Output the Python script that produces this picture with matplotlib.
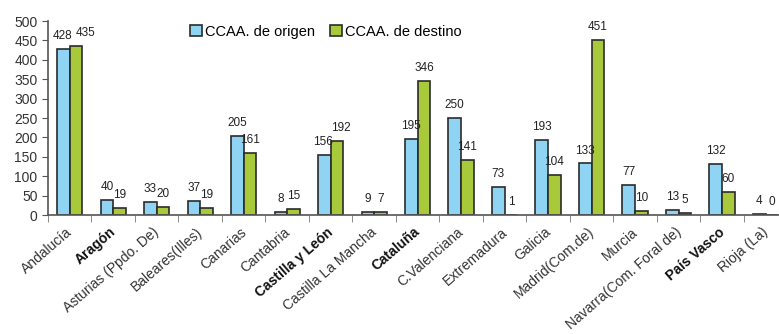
import numpy as np
import matplotlib.pyplot as plt
import matplotlib.transforms as mtransforms
from matplotlib.ticker import FixedLocator

regiones = ["Andalucía", "Aragón", "Asturias (Ppdo. De)", "Baleares(Illes)",
            "Canarias", "Cantabria", "Castilla y León", "Castilla La Mancha",
            "Cataluña", "C.Valenciana", "Extremadura", "Galicia",
            "Madrid(Com.de)", "Murcia", "Navarra(Com. Foral de)",
            "País Vasco", "Rioja (La)"]
origen = [428, 40, 33, 37, 205, 8, 156, 9, 195, 250, 73, 193, 133, 77, 13, 132, 4]
destino = [435, 19, 20, 19, 161, 15, 192, 7, 346, 141, 1, 104, 451, 10, 5, 60, 0]
negrita = ["Aragón", "Castilla y León", "Cataluña", "País Vasco"]

plt.rcParams["font.family"] = ["Liberation Sans", "DejaVu Sans"]

c_origen = "#8fd4f2"
c_destino = "#a8ca3a"
borde = "#2b2b2b"

fig = plt.figure(figsize=(7.79, 3.34), dpi=100)
ax = fig.add_axes([0.0616, 0.356, 0.949, 0.581])

x = np.arange(len(regiones))
w = 0.29
b1 = ax.bar(x - w/2, origen, w, color=c_origen, edgecolor=borde, linewidth=1.2,
            label="CCAA. de origen")
b2 = ax.bar(x + w/2, destino, w, color=c_destino, edgecolor=borde, linewidth=1.2,
            label="CCAA. de destino")

# etiquetas de valor; algunas se separan para que no se pisen
desplaz = {(0, 0): -1, (1, 0): 7, (0, 6): -1, (1, 6): 3}
for k, (barras, vals) in enumerate([(b1, origen), (b2, destino)]):
    for i, (r, v) in enumerate(zip(barras, vals)):
        dx = desplaz.get((k, i), 0)
        ax.annotate(str(v), (r.get_x() + r.get_width()/2, v),
                    xytext=(dx, 5), textcoords="offset points",
                    ha="center", va="bottom", fontsize=8.5, color="#222222")

ax.set_xlim(-0.5, len(regiones) - 0.5)
ax.set_ylim(0, 500)
ax.set_yticks(range(0, 501, 50))
ax.tick_params(axis="y", labelsize=10, length=4, color="#555555", colors="#333333")

ax.set_xticks(x)
ax.set_xticklabels(regiones, rotation=41, ha="right", rotation_mode="anchor",
                   fontsize=10, color="#333333")
ax.tick_params(axis="x", which="major", length=0, pad=7)
ax.xaxis.set_minor_locator(FixedLocator(np.arange(len(regiones) + 1) - 0.5))
ax.tick_params(axis="x", which="minor", length=5, color="#777777")
corr = mtransforms.ScaledTranslation(-4/100, 0, fig.dpi_scale_trans)
for lab in ax.get_xticklabels():
    lab.set_transform(lab.get_transform() + corr)
    if lab.get_text() in negrita:
        lab.set_fontweight("bold")
        lab.set_color("#111111")

for s in ["top", "right"]:
    ax.spines[s].set_visible(False)
for s in ["left", "bottom"]:
    ax.spines[s].set_color("#555555")
    ax.spines[s].set_linewidth(1.2)

ax.legend(loc="upper left", bbox_to_anchor=(0.227, 0.965), bbox_transform=fig.transFigure,
          ncol=2, frameon=False, fontsize=10.5, handlelength=0.8, handleheight=0.8,
          handletextpad=0.25, columnspacing=1.0)

fig.savefig("out.png", dpi=100)
